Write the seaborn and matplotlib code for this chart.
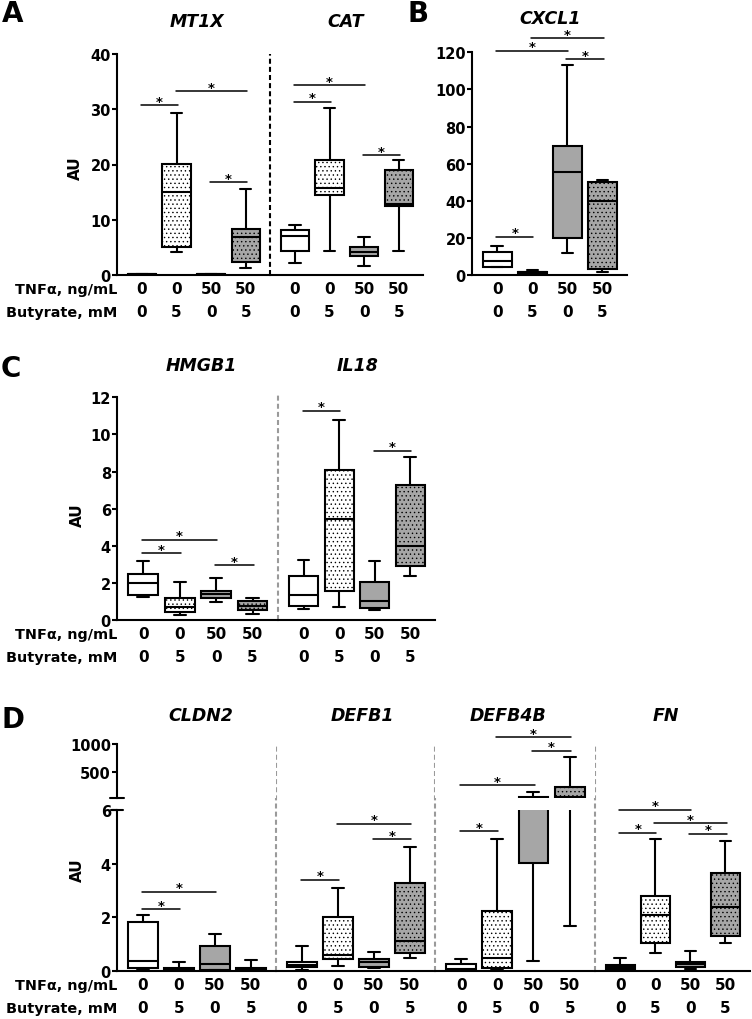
import numpy as np
import pandas as pd
import matplotlib
matplotlib.use("Agg")
import matplotlib.pyplot as plt
import seaborn as sns

# group labels (TNFa ng/mL, butyrate mM)
TNF = ["0", "0", "50", "50"]
BUTYRATE = ["0", "5", "0", "5"]
GROUPS = ["0/0", "0/5", "50/0", "50/5"]
FILLS = ["white", "white", "#a6a6a6", "#a6a6a6"]
HATCHES = [None, "....", None, "...."]

# five-number summaries per group: min, q1, median, q3, max
MT1X = [[0.05, 0.08, 0.1, 0.12, 0.15], [4.1, 5.0, 15.1, 20.1, 29.3],
        [0.05, 0.08, 0.1, 0.12, 0.15], [1.3, 2.4, 6.8, 8.3, 15.6]]
CAT = [[2.1, 4.3, 7.1, 8.1, 9.1], [4.3, 14.4, 15.8, 20.9, 30.3],
       [1.6, 3.4, 4.2, 5.1, 6.8], [4.3, 12.4, 12.8, 19.0, 20.8]]
CXCL1 = [[4.1, 4.5, 7.7, 12.6, 15.8], [0.7, 1.1, 1.4, 1.8, 2.9],
         [11.9, 19.8, 55.3, 69.7, 113.2], [1.4, 3.2, 39.9, 49.9, 51.2]]
HMGB1 = [[1.22, 1.37, 2.0, 2.48, 3.2], [0.27, 0.41, 0.72, 1.17, 2.03],
         [0.99, 1.17, 1.42, 1.58, 2.26], [0.32, 0.54, 0.74, 1.0, 1.17]]
IL18 = [[0.59, 0.77, 1.36, 2.39, 3.25], [0.68, 1.55, 5.44, 8.08, 10.78],
        [0.56, 0.65, 1.0, 2.06, 3.2], [2.39, 2.93, 3.97, 7.27, 8.77]]
CLDN2 = [[0.06, 0.1, 0.35, 1.83, 2.08], [0.01, 0.03, 0.06, 0.11, 0.32],
         [0.01, 0.04, 0.24, 0.93, 1.37], [0.01, 0.02, 0.05, 0.09, 0.4]]
DEFB1 = [[0.02, 0.12, 0.22, 0.31, 0.92], [0.19, 0.44, 0.6, 1.99, 3.09],
         [0.1, 0.15, 0.31, 0.45, 0.7], [0.47, 0.66, 1.12, 3.27, 4.63]]
DEFB4B = [[0.0, 0.02, 0.06, 0.25, 0.44], [0.02, 0.1, 0.46, 2.24, 4.9],
          [0.35, 4.02, 20, 58, 157], [1.68, 20, 65, 235, 776]]
FN = [[0.02, 0.06, 0.12, 0.21, 0.46], [0.66, 1.03, 2.08, 2.78, 4.92],
      [0.06, 0.12, 0.25, 0.34, 0.72], [1.05, 1.31, 2.39, 3.63, 4.86]]

# significance bars: (group i, group j, height)
MT1X_SIG = [(0, 1, 30.7), (1, 3, 33.3), (2, 3, 16.8)]
CAT_SIG = [(0, 2, 34.3), (0, 1, 31.4), (2, 3, 21.7)]
CXCL1_SIG = [(0, 1, 20.7), (0, 2, 120.9), (1, 3, 127.6), (2, 3, 116.3)]
HMGB1_SIG = [(0, 2, 4.33), (0, 1, 3.59), (2, 3, 2.95)]
IL18_SIG = [(0, 1, 11.28), (2, 3, 9.12)]
CLDN2_SIG = [(0, 2, 2.94), (0, 1, 2.3)]
DEFB1_SIG = [(0, 1, 3.4), (1, 3, 5.48), (2, 3, 4.9)]
DEFB4B_SIG_LOW = [(0, 1, 5.2)]
DEFB4B_SIG_HIGH = [(0, 2, 275), (1, 3, 1118), (2, 3, 882)]
FN_SIG = [(0, 2, 6.0), (1, 3, 5.51), (0, 1, 5.15), (2, 3, 5.12)]

sns.set_style("ticks", {"axes.edgecolor": "black", "xtick.color": "black",
                        "ytick.color": "black", "text.color": "black",
                        "axes.labelcolor": "black"})
plt.rcParams["font.family"] = ["DejaVu Sans"]
plt.rcParams["font.weight"] = "bold"
plt.rcParams["hatch.linewidth"] = 0.5
plt.rcParams["hatch.color"] = "black"

W, H = 752, 1020
fig = plt.figure(figsize=(W / 100, H / 100), dpi=100)
ROW_FS = 11
LABEL_FS = 10.4
TICK_FS = 10.5


def px_rect(left, right, top, bottom):
    return [left / W, 1 - bottom / H, (right - left) / W, (bottom - top) / H]


def draw_boxes(ax, stats):
    df = pd.DataFrame({"group": np.repeat(GROUPS, 5),
                       "value": np.concatenate(stats)})
    sns.boxplot(data=df, x="group", y="value", hue="group", order=GROUPS,
                hue_order=GROUPS, palette=FILLS, saturation=1, whis=(0, 100),
                width=0.82, linewidth=1.5, linecolor="black", fliersize=0,
                capwidths=0.33, legend=False, ax=ax)
    for patch, hatch in zip(ax.patches, HATCHES):
        if hatch:
            patch.set_hatch(hatch)


def style(ax, ylim, yticks=None, first=True, bottom=True):
    ax.set_xlim(-0.72, 3.7)
    ax.set_ylim(*ylim)
    ax.set_xticks([])
    ax.set_xlabel("")
    ax.set_ylabel("")
    for s in ["top", "right"]:
        ax.spines[s].set_visible(False)
    for s in ax.spines.values():
        s.set_linewidth(1.5)
    ax.spines["bottom"].set_visible(bottom)
    if first:
        ax.set_yticks(yticks)
        ax.tick_params(axis="y", direction="out", length=3.6, width=1.5,
                       labelsize=TICK_FS, pad=0.8)
    else:
        ax.spines["left"].set_visible(False)
        ax.set_yticks([])


def xrows(ax, labels=True):
    for i in range(4):
        ax.annotate(TNF[i], xy=(i, 0), xycoords=("data", "axes fraction"),
                    xytext=(0, -14), textcoords="offset pixels",
                    ha="center", va="center", fontsize=ROW_FS)
        ax.annotate(BUTYRATE[i], xy=(i, 0), xycoords=("data", "axes fraction"),
                    xytext=(0, -37), textcoords="offset pixels",
                    ha="center", va="center", fontsize=ROW_FS)
    if labels:
        ax.annotate("TNFα, ng/mL", xy=(0, 0), xycoords="axes fraction",
                    xytext=(0, -14), textcoords="offset pixels",
                    ha="right", va="center", fontsize=LABEL_FS)
        ax.annotate("Butyrate, mM", xy=(0, 0), xycoords="axes fraction",
                    xytext=(0, -37), textcoords="offset pixels",
                    ha="right", va="center", fontsize=LABEL_FS)


def add_sig(ax, sigs):
    for i, j, y in sigs:
        ax.plot([i - 0.03, j + 0.03], [y, y], color="black", lw=1.1,
                clip_on=False)
        ax.annotate("*", xy=((i + j) / 2, y), xytext=(0, -2.5),
                    textcoords="offset pixels", ha="center", va="bottom",
                    fontsize=9.5, annotation_clip=False)


def divider(ax, color, top_frac=1.0):
    ax.axvline(ax.get_xlim()[0], ymin=0, ymax=top_frac, color=color, lw=1.5,
               ls=(0, (2.4, 1.5)), clip_on=False)


# ---- panel A ----
axA1 = fig.add_axes(px_rect(117, 270, 55, 276))
axA2 = fig.add_axes(px_rect(270, 423, 55, 276))
draw_boxes(axA1, MT1X)
draw_boxes(axA2, CAT)
style(axA1, (0, 40), [0, 10, 20, 30, 40])
style(axA2, (0, 40), first=False)
add_sig(axA1, MT1X_SIG)
add_sig(axA2, CAT_SIG)
xrows(axA1)
xrows(axA2, labels=False)
divider(axA2, "black")

# ---- panel B ----
axB = fig.add_axes(px_rect(472, 627, 53.3, 276))
draw_boxes(axB, CXCL1)
style(axB, (0, 120), [0, 20, 40, 60, 80, 100, 120])
add_sig(axB, CXCL1_SIG)
xrows(axB, labels=False)

# ---- panel C ----
axC1 = fig.add_axes(px_rect(117, 278, 398.3, 621))
axC2 = fig.add_axes(px_rect(278, 435, 398.3, 621))
draw_boxes(axC1, HMGB1)
draw_boxes(axC2, IL18)
style(axC1, (0, 12), [0, 2, 4, 6, 8, 10, 12])
style(axC2, (0, 12), first=False)
add_sig(axC1, HMGB1_SIG)
add_sig(axC2, IL18_SIG)
xrows(axC1)
xrows(axC2, labels=False)
divider(axC2, "#9a9a9a", top_frac=1.01)

# ---- panel D (broken y axis) ----
D_COLS = [(117, 276), (276, 435), (435, 595), (595, 750)]
D_DATA = [CLDN2, DEFB1, DEFB4B, FN]
D_SIGS = [CLDN2_SIG, DEFB1_SIG, DEFB4B_SIG_LOW, FN_SIG]
low_top, low_bot, up_top, up_bot = 811, 971.7, 745, 799.3
for k, ((l, r), stats, sigs) in enumerate(zip(D_COLS, D_DATA, D_SIGS)):
    ax = fig.add_axes(px_rect(l, r, low_top, low_bot))
    draw_boxes(ax, stats)
    style(ax, (0, 6), [0, 2, 4, 6], first=(k == 0))
    add_sig(ax, sigs)
    xrows(ax, labels=(k == 0))
    if k > 0:
        divider(ax, "#9a9a9a", top_frac=(low_bot - up_top) / (low_bot - low_top))
    else:
        ax.plot([-0.04, 0.035], [1, 1], transform=ax.transAxes, color="black",
                lw=1.5, clip_on=False)

axDu0 = fig.add_axes(px_rect(117, 276, up_top, up_bot))
style(axDu0, (40, 1000), [500, 1000], bottom=False)
axDu0.plot([-0.045, 0.045], [0, 0], transform=axDu0.transAxes, color="black",
           lw=1.5, clip_on=False)
axDu2 = fig.add_axes(px_rect(435, 595, up_top, up_bot))
draw_boxes(axDu2, DEFB4B)
style(axDu2, (40, 1000), first=False, bottom=False)
add_sig(axDu2, DEFB4B_SIG_HIGH)

# ---- titles, labels ----
title_kw = dict(ha="center", va="baseline", fontsize=12.5, fontstyle="italic",
                fontweight="bold")
for name, x, y in [("MT1X", 197, 27), ("CAT", 346, 27), ("CXCL1", 550, 24),
                   ("HMGB1", 201, 371), ("IL18", 358, 371),
                   ("CLDN2", 201, 721), ("DEFB1", 362, 721),
                   ("DEFB4B", 508, 721), ("FN", 666, 721)]:
    fig.text(x / W, 1 - y / H, name, **title_kw)

for letter, x, y in [("A", 2, 22), ("B", 407, 22), ("C", 1, 377), ("D", 2, 728)]:
    fig.text(x / W, 1 - y / H, letter, ha="left", va="baseline", fontsize=20,
             fontweight="bold")

for x, y in [(75, 168), (77, 515), (77, 870)]:
    fig.text(x / W, 1 - y / H, "AU", rotation=90, ha="center", va="center",
             fontsize=ROW_FS, fontweight="bold")

fig.savefig("out.png", dpi=100)
